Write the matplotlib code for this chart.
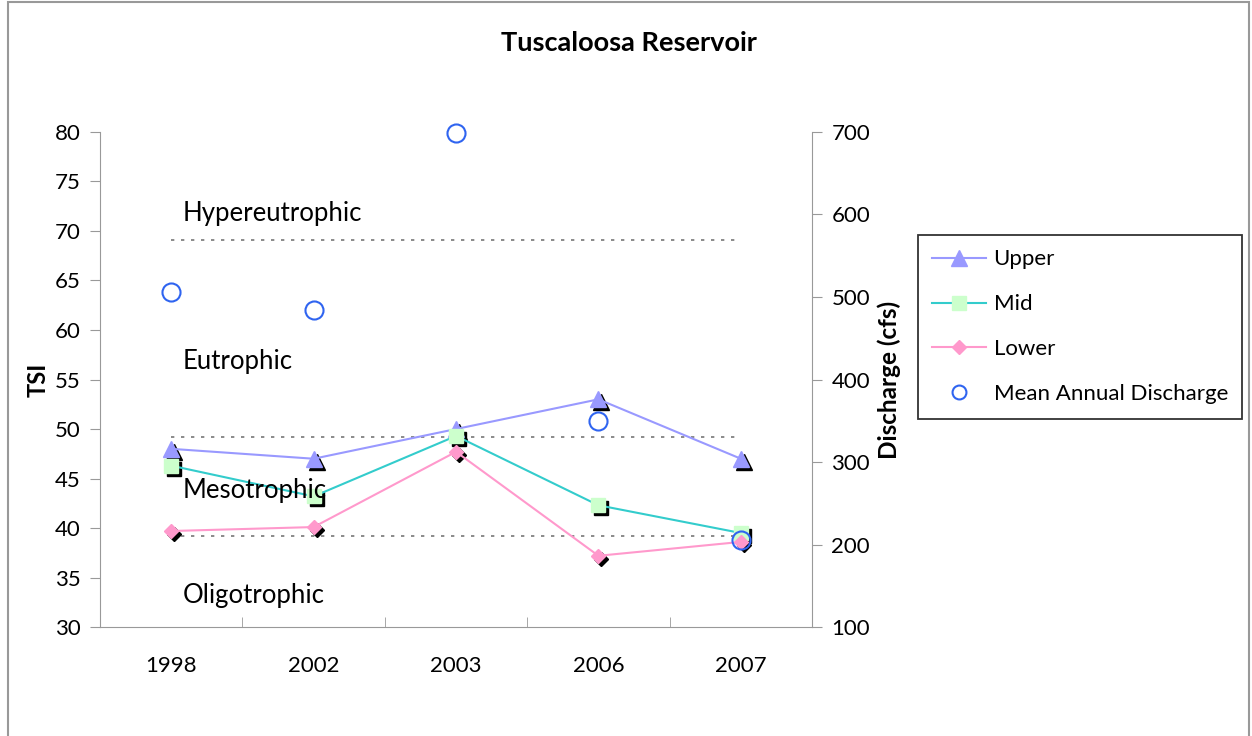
import matplotlib.pyplot as plt
import matplotlib.transforms as mtransforms
from matplotlib.lines import Line2D
from matplotlib.patches import Rectangle
import numpy as np

plt.rcParams['font.family'] = ['Lato', 'DejaVu Sans']

years = ['1998', '2002', '2003', '2006', '2007']
upper = [48.0, 47.0, 50.0, 53.0, 47.0]
mid = [46.3, 43.2, 49.3, 42.3, 39.5]
lower = [39.7, 40.1, 47.7, 37.2, 38.6]
discharge = [506, 484, 699, 350, 205]

# trophic class boundaries (TSI) and labels
bounds = [69.1, 49.2, 39.2]
zones = ['Hypereutrophic', 'Eutrophic', 'Mesotrophic', 'Oligotrophic']
zone_y = [71.8, 56.8, 43.8, 33.2]

fig = plt.figure(figsize=(12.52, 7.36), dpi=100)
ax = fig.add_axes([0.0799, 0.148, 0.5687, 0.6727])
x = np.arange(len(years))

# black drop shadow behind markers
shadow = ax.transData + mtransforms.ScaledTranslation(3 / 100, -3 / 100, fig.dpi_scale_trans)

for b in bounds:
    ax.plot([0, 3.97], [b, b], ls=(0, (2, 4)), color='#777777', lw=1.2, zorder=1)

series = [
    ('Upper', upper, '#9999ff', '#9999ff', '^', 11),
    ('Mid', mid, '#33cccc', '#ccffcc', 's', 10),
    ('Lower', lower, '#ff99cc', '#ff99cc', 'D', 7),
]
handles = []
for name, vals, lc, mc, m, ms in series:
    ax.plot(x, vals, ls='none', marker=m, ms=ms, color='black', mec='black', transform=shadow, zorder=2)
    h, = ax.plot(x, vals, color=lc, lw=1.5, marker=m, ms=ms, mfc=mc, mec=mc, zorder=3, label=name)
    handles.append(h)

for zn, zy in zip(zones, zone_y):
    ax.text(0.08, zy, zn, fontsize=18.5, va='center', ha='left')

ax.set_xlim(-0.5, 4.5)
ax.set_ylim(30, 80)
ax.set_yticks(range(30, 81, 5))
ax.set_xticks(x)
ax.set_xticklabels(years)
ax.set_xticks(np.arange(-0.5, 4.6, 1), minor=True)
ax.tick_params(axis='x', which='major', length=0, pad=21, labelsize=16)
ax.tick_params(axis='x', which='minor', length=7, color='#999999', direction='in')
ax.tick_params(axis='y', length=7, color='#999999', labelsize=16, pad=7)
ax.set_ylabel('TSI', fontsize=17, fontweight='bold', labelpad=4)
for s in ['top', 'right']:
    ax.spines[s].set_visible(False)
for s in ['left', 'bottom']:
    ax.spines[s].set_color('#999999')

ax2 = ax.twinx()
ax2.plot(x, discharge, ls='none', marker='o', ms=13, mfc='none', mec='#2f64f0', mew=1.5,
         zorder=4, clip_on=False)
handles.append(Line2D([], [], ls='none', marker='o', ms=10, mfc='none', mec='#2f64f0', mew=1.5,
                      label='Mean Annual Discharge'))
ax2.set_ylim(100, 700)
ax2.set_yticks(range(100, 701, 100))
ax2.tick_params(axis='y', length=7, color='#999999', labelsize=16, pad=7)
ax2.set_ylabel('Discharge (cfs)', fontsize=17.5, fontweight='bold', labelpad=5)
for s in ['top', 'left', 'bottom']:
    ax2.spines[s].set_visible(False)
ax2.spines['right'].set_color('#999999')

fig.suptitle('Tuscaloosa Reservoir', x=0.502, y=0.958, fontsize=19.5, fontweight='bold')

leg = fig.legend(handles=handles, loc='upper left', bbox_to_anchor=(0.7332, 0.6807),
                 fontsize=16, frameon=True, fancybox=False, edgecolor='black',
                 handlelength=2.4, handletextpad=0.35, labelspacing=1.12, borderpad=0.65,
                 borderaxespad=0)
leg.get_frame().set_linewidth(1.3)

fig.patches.append(Rectangle((0.006, -0.01), 0.992, 1.007, transform=fig.transFigure,
                             fill=False, edgecolor='#999999', lw=1.5))

fig.savefig('out.png', dpi=100)
